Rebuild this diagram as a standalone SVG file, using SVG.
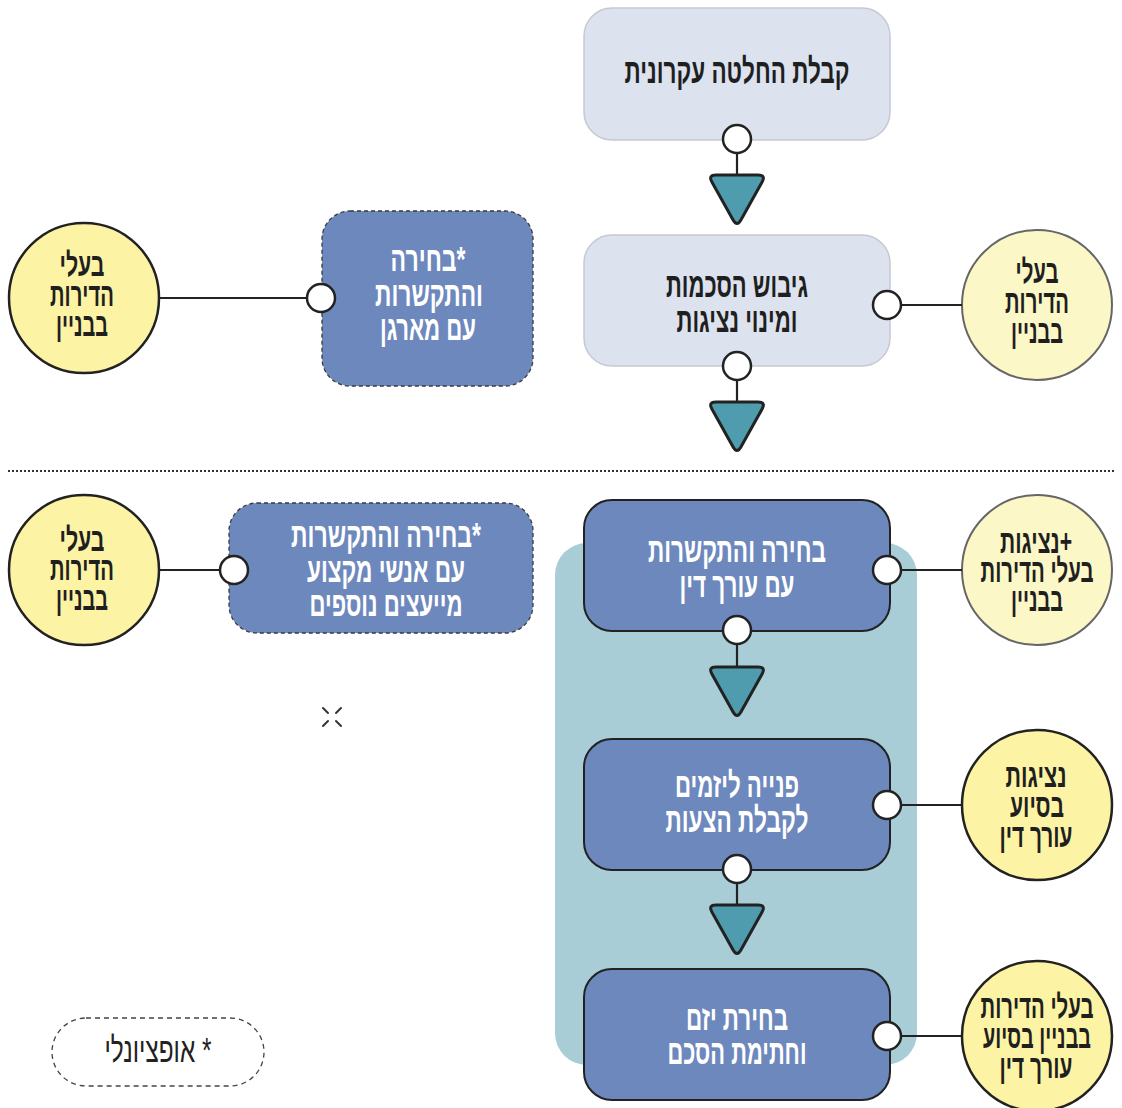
<svg xmlns="http://www.w3.org/2000/svg" width="1122" height="1108" viewBox="0 0 1122 1108">
<style>
.t{font-family:"Liberation Sans","DejaVu Sans",sans-serif;font-weight:bold;font-size:35px;text-anchor:middle;}
.s{font-size:33px;}
.dk{fill:#1f1f1f;}
.wt{fill:#ffffff;}
.light{fill:#dde2ef;stroke:#c6c9d4;stroke-width:1.5;}
.blue{fill:#6d88bd;stroke:#222;stroke-width:2;}
.blued{fill:#6d88bd;stroke:#3a3a3a;stroke-width:1.3;stroke-dasharray:4 3;}
.ybright{fill:#fcf4a4;stroke:#222;stroke-width:2.5;}
.ypale{fill:#fbf7c6;stroke:#666;stroke-width:2;}
.port{fill:#fff;stroke:#222;stroke-width:2.5;}
.ln{stroke:#222;stroke-width:2.2;fill:none;}
.tri{fill:#4e9cae;stroke:#222;stroke-width:3;stroke-linejoin:round;}
</style>
<defs>
<path id="tri" class="tri" d="M -21,0 L 21,0 Q 29,0 25.1,7.0 L 3.9,45.0 Q 0,52 -3.9,45.0 L -25.1,7.0 Q -29,0 -21,0 Z"/>
</defs>
<rect id="bg" x="555" y="543" width="362" height="522" rx="32" fill="#a8cdd7"/>
<line x1="8" y1="471" x2="1116" y2="471" stroke="#333" stroke-width="2" stroke-dasharray="2 2"/>
<g id="n1"><rect class="light" x="584" y="8" width="306" height="132" rx="28"/>
<text class="t dk" x="737" y="83" textLength="225" lengthAdjust="spacingAndGlyphs">קבלת החלטה עקרונית</text></g>
<g id="n2"><rect class="light" x="584" y="235" width="306" height="131" rx="28"/>
<text class="t dk" x="737" y="297" textLength="142" lengthAdjust="spacingAndGlyphs">גיבוש הסכמות</text>
<text class="t dk" x="737" y="332" textLength="121" lengthAdjust="spacingAndGlyphs">ומינוי נציגות</text></g>
<g id="n3"><rect class="blue" x="584" y="500" width="306" height="131" rx="28"/>
<text class="t wt" x="737" y="562" textLength="178" lengthAdjust="spacingAndGlyphs">בחירה והתקשרות</text>
<text class="t wt" x="737" y="597" textLength="115" lengthAdjust="spacingAndGlyphs">עם עורך דין</text></g>
<g id="n4"><rect class="blue" x="584" y="739" width="306" height="131" rx="28"/>
<text class="t wt" x="737" y="797" textLength="124" lengthAdjust="spacingAndGlyphs">פנייה ליזמים</text>
<text class="t wt" x="737" y="832" textLength="143" lengthAdjust="spacingAndGlyphs">לקבלת הצעות</text></g>
<g id="n5"><rect class="blue" x="584" y="969" width="306" height="131" rx="28"/>
<text class="t wt" x="737" y="1030" textLength="102" lengthAdjust="spacingAndGlyphs">בחירת יזם</text>
<text class="t wt" x="737" y="1064" textLength="139" lengthAdjust="spacingAndGlyphs">וחתימת הסכם</text></g>
<g id="opt1"><rect class="blued" x="322" y="211" width="211" height="175" rx="28"/>
<text class="t wt" x="428" y="271" textLength="75" lengthAdjust="spacingAndGlyphs">&#x202B;*בחירה&#x202C;</text>
<text class="t wt" x="429" y="306" textLength="108" lengthAdjust="spacingAndGlyphs">והתקשרות</text>
<text class="t wt" x="428" y="340" textLength="96" lengthAdjust="spacingAndGlyphs">עם מארגן</text></g>
<g id="opt2"><rect class="blued" x="229" y="503" width="304" height="130" rx="28"/>
<text class="t wt" x="386" y="547" textLength="190" lengthAdjust="spacingAndGlyphs">&#x202B;*בחירה והתקשרות&#x202C;</text>
<text class="t wt" x="386" y="582" textLength="158" lengthAdjust="spacingAndGlyphs">עם אנשי מקצוע</text>
<text class="t wt" x="386" y="616" textLength="153" lengthAdjust="spacingAndGlyphs">מייעצים נוספים</text></g>
<g id="c1"><circle class="ypale" cx="1037" cy="305" r="75"/>
<text class="t s dk" x="1037" y="283" textLength="43" lengthAdjust="spacingAndGlyphs">בעלי</text>
<text class="t s dk" x="1037" y="313" textLength="64" lengthAdjust="spacingAndGlyphs">הדירות</text>
<text class="t s dk" x="1037" y="343" textLength="52" lengthAdjust="spacingAndGlyphs">בבניין</text></g>
<g id="c2"><circle class="ybright" cx="84" cy="298" r="75"/>
<text class="t s dk" x="82" y="276" textLength="45" lengthAdjust="spacingAndGlyphs">בעלי</text>
<text class="t s dk" x="82" y="306" textLength="64" lengthAdjust="spacingAndGlyphs">הדירות</text>
<text class="t s dk" x="82" y="336" textLength="52" lengthAdjust="spacingAndGlyphs">בבניין</text></g>
<g id="c3"><circle class="ypale" cx="1037" cy="570" r="75"/>
<text class="t s dk" x="1036" y="553" textLength="72" lengthAdjust="spacingAndGlyphs">&#x202B;+נציגות&#x202C;</text>
<text class="t s dk" x="1037" y="582" textLength="113" lengthAdjust="spacingAndGlyphs">בעלי הדירות</text>
<text class="t s dk" x="1037" y="611" textLength="52" lengthAdjust="spacingAndGlyphs">בבניין</text></g>
<g id="c4"><circle class="ybright" cx="84" cy="570" r="75"/>
<text class="t s dk" x="82" y="551" textLength="45" lengthAdjust="spacingAndGlyphs">בעלי</text>
<text class="t s dk" x="82" y="580" textLength="64" lengthAdjust="spacingAndGlyphs">הדירות</text>
<text class="t s dk" x="82" y="610" textLength="52" lengthAdjust="spacingAndGlyphs">בבניין</text></g>
<g id="c5"><circle class="ybright" cx="1037" cy="805" r="75"/>
<text class="t s dk" x="1036" y="787" textLength="61" lengthAdjust="spacingAndGlyphs">נציגות</text>
<text class="t s dk" x="1037" y="817" textLength="54" lengthAdjust="spacingAndGlyphs">בסיוע</text>
<text class="t s dk" x="1036" y="847" textLength="73" lengthAdjust="spacingAndGlyphs">עורך דין</text></g>
<g id="c6"><circle class="ybright" cx="1037" cy="1036" r="75"/>
<text class="t s dk" x="1037" y="1018" textLength="113" lengthAdjust="spacingAndGlyphs">בעלי הדירות</text>
<text class="t s dk" x="1037" y="1048" textLength="108" lengthAdjust="spacingAndGlyphs">בבניין בסיוע</text>
<text class="t s dk" x="1036" y="1078" textLength="73" lengthAdjust="spacingAndGlyphs">עורך דין</text></g>
<g id="connectors">
<line class="ln" x1="737" y1="153" x2="737" y2="175"/>
<line class="ln" x1="737" y1="380" x2="737" y2="402"/>
<line class="ln" x1="737" y1="644" x2="737" y2="667"/>
<line class="ln" x1="737" y1="883" x2="737" y2="905"/>
<line class="ln" x1="901" y1="305" x2="962" y2="305"/>
<line class="ln" x1="901" y1="570" x2="962" y2="570"/>
<line class="ln" x1="901" y1="805" x2="962" y2="805"/>
<line class="ln" x1="901" y1="1036" x2="962" y2="1036"/>
<line class="ln" x1="159" y1="298" x2="307" y2="298"/>
<line class="ln" x1="159" y1="570" x2="220" y2="570"/>
<circle class="port" cx="737" cy="139" r="14"/>
<circle class="port" cx="737" cy="366" r="14"/>
<circle class="port" cx="737" cy="630" r="14"/>
<circle class="port" cx="737" cy="869" r="14"/>
<circle class="port" cx="887" cy="305" r="14"/>
<circle class="port" cx="887" cy="570" r="14"/>
<circle class="port" cx="887" cy="805" r="14"/>
<circle class="port" cx="887" cy="1036" r="14"/>
<circle class="port" cx="321" cy="298" r="14"/>
<circle class="port" cx="234" cy="570" r="14"/>
<use href="#tri" x="737" y="175"/>
<use href="#tri" x="737" y="402"/>
<use href="#tri" x="737" y="667"/>
<use href="#tri" x="737" y="905"/>
</g>
<g id="mark" stroke="#333" stroke-width="2" stroke-linecap="round">
<line x1="323" y1="708" x2="328" y2="713"/>
<line x1="341" y1="708" x2="336" y2="713"/>
<line x1="323" y1="726" x2="328" y2="721"/>
<line x1="341" y1="726" x2="336" y2="721"/>
</g>
<g id="legend"><rect x="52" y="1018" width="212" height="68" rx="34" fill="none" stroke="#444" stroke-width="1.3" stroke-dasharray="5 4"/>
<text x="158" y="1062" font-family="Liberation Sans, DejaVu Sans, sans-serif" font-size="35" text-anchor="middle" fill="#222" textLength="107" lengthAdjust="spacingAndGlyphs">&#x202B;* אופציונלי&#x202C;</text></g>
</svg>
